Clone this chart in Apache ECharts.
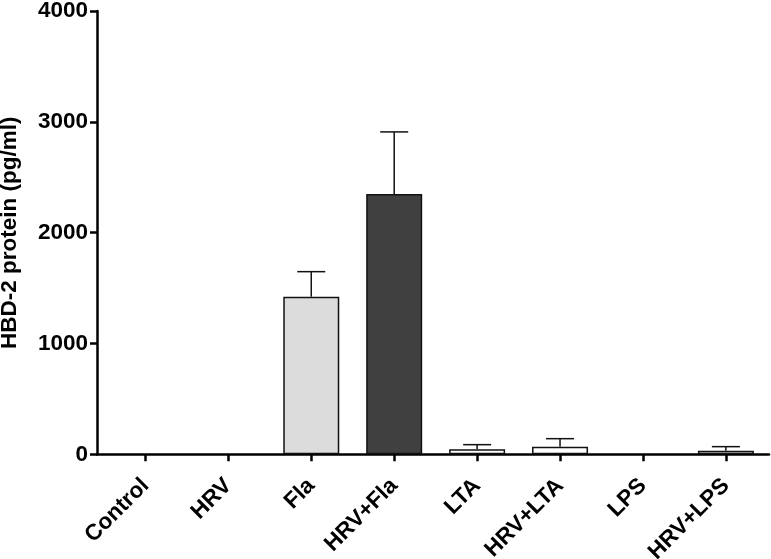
<!DOCTYPE html>
<html><head><meta charset="utf-8">
<script src="https://cdn.jsdelivr.net/npm/echarts@6/dist/echarts.min.js"></script>
<style>html,body{margin:0;padding:0;background:#fff}#c{width:771px;height:559px}</style>
</head><body><div id="c"></div>
<script>
var categories = ['Control','HRV','Fla','HRV+Fla','LTA','HRV+LTA','LPS','HRV+LPS'];
var means = [0, 0, 1422, 2349, 45, 69, 0, 32];
var errTop = [0, 0, 1648, 2909, 87, 141, 0, 69];
var fills = ['#ffffff','#ffffff','#dcdcdc','#404040','#ffffff','#ffffff','#ffffff','#ffffff'];
var yTicks = [0, 1000, 2000, 3000, 4000];

var font = '"Liberation Sans", Arial, sans-serif';
var chart = echarts.init(document.getElementById('c'));
var barData = [];
means.forEach(function(v,i){ if (v > 0) barData.push({value:[i,v], itemStyle:{color:fills[i]}}); });
var errData = [];
means.forEach(function(v,i){ if (errTop[i] > v) errData.push([i, v, errTop[i]]); });
var tickPos = categories.map(function(c,i){return i;});
chart.setOption({
  animation:false,
  grid:{left:97, right:2, top:11, bottom:104.7, containLabel:false, outerBoundsMode:'none'},
  xAxis:{type:'value', min:-0.584, max:7.52,
    splitLine:{show:false},
    axisLine:{show:true, onZero:false, lineStyle:{color:'#000', width:2.5}},
    axisTick:{show:true, customValues:tickPos, length:7, lineStyle:{color:'#000', width:2.5}},
    axisLabel:{customValues:tickPos, rotate:45, margin:28, color:'#000', fontFamily:font, fontWeight:'bold', fontSize:22.5,
      formatter:function(v){return categories[Math.round(v)];}}
  },
  yAxis:{type:'value', min:0, max:4000, interval:1000,
    name:'HBD-2 protein (pg/ml)', nameLocation:'middle', nameGap:76,
    nameTextStyle:{color:'#000', fontFamily:font, fontWeight:'bold', fontSize:22.5},
    splitLine:{show:false},
    axisLine:{show:true, onZero:false, lineStyle:{color:'#000', width:2.5}},
    axisTick:{show:true, customValues:yTicks, length:7, lineStyle:{color:'#000', width:2.5}},
    axisLabel:{customValues:yTicks, color:'#000', fontFamily:font, fontWeight:'bold', fontSize:22.5, margin:9,
      formatter:function(v){return String(v);}}
  },
  series:[
    {type:'bar', data:barData, barWidth:56, itemStyle:{borderColor:'#111', borderWidth:1.5}, z:2},
    {type:'custom', data:errData, z:1,
      renderItem:function(params, api){
        var x = api.value(0), lo = api.value(1), hi = api.value(2);
        var p0 = api.coord([x, lo]), p1 = api.coord([x, hi]);
        var hw = 14;
        return {type:'group', children:[
          {type:'line', shape:{x1:p0[0], y1:p0[1], x2:p1[0], y2:p1[1]}, style:{stroke:'#111', lineWidth:1.5}},
          {type:'line', shape:{x1:p1[0]-hw, y1:p1[1], x2:p1[0]+hw, y2:p1[1]}, style:{stroke:'#111', lineWidth:1.5}}
        ]};
      }}
  ]
});
</script></body></html>
